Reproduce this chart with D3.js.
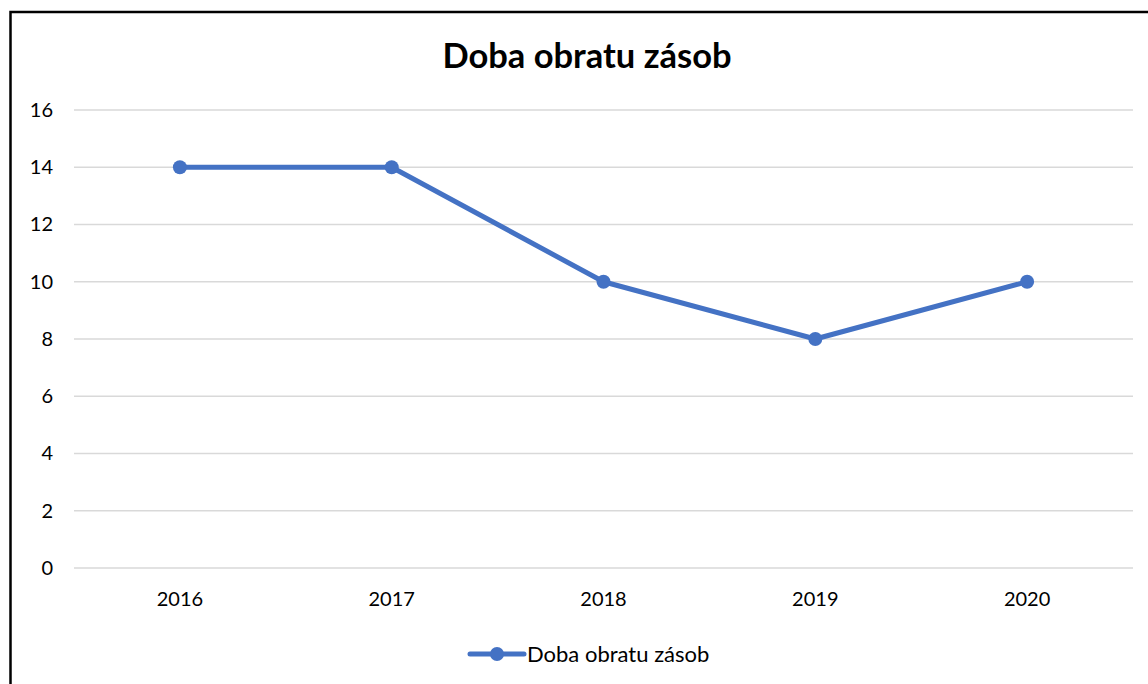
<!DOCTYPE html>
<html>
<head>
<meta charset="utf-8">
<script src="https://cdn.jsdelivr.net/npm/d3@7"></script>
<style>
  body { margin: 0; background: #fff; }
  svg { font-family: Lato, "Open Sans", sans-serif; }
</style>
</head>
<body>
<div id="chart-area"></div>
<script>
// Data
const years = ['2016', '2017', '2018', '2019', '2020'];
const values = [14, 14, 10, 8, 10];
const yTicks = [0, 2, 4, 6, 8, 10, 12, 14, 16];
const seriesName = 'Doba obratu zásob';
const title = 'Doba obratu zásob';

const W = 1148, H = 684;
const margin = { left: 74, right: 15, top: 110, bottom: 116 };
const width = W - margin.left - margin.right;
const height = H - margin.top - margin.bottom;
const blue = '#4472C4';

const svg = d3.select('#chart-area')
    .append('svg')
    .attr('width', W)
    .attr('height', H);

// Outer frame
svg.append('rect')
    .attr('x', 10.5).attr('y', 12)
    .attr('width', W).attr('height', H)
    .attr('fill', 'none')
    .attr('stroke', '#000')
    .attr('stroke-width', 2.5);

// Title
svg.append('text')
    .attr('x', 587).attr('y', 68)
    .attr('text-anchor', 'middle')
    .attr('font-size', '34.5px')
    .attr('font-weight', 'bold')
    .attr('fill', '#000')
    .text(title);

const g = svg.append('g')
    .attr('transform', 'translate(' + margin.left + ', ' + margin.top + ')');

// Scales
const x = d3.scaleBand()
    .domain(years)
    .range([0, width]);

const y = d3.scaleLinear()
    .domain([0, 16])
    .range([height, 0]);

// Grid lines
g.selectAll('.grid')
    .data(yTicks)
    .enter()
    .append('line')
    .attr('class', 'grid')
    .attr('x1', 0).attr('x2', width)
    .attr('y1', d => y(d)).attr('y2', d => y(d))
    .attr('stroke', '#d9d9d9')
    .attr('stroke-width', 1.5);

// Y axis
const yAxis = g.append('g')
    .call(d3.axisLeft(y).tickValues(yTicks).tickSize(0).tickPadding(21));
yAxis.select('.domain').remove();
yAxis.selectAll('text')
    .attr('font-size', '20px')
    .attr('font-family', 'Lato, "Open Sans", sans-serif')
    .attr('fill', '#000');

// X axis
const xAxis = g.append('g')
    .attr('transform', 'translate(0, ' + height + ')')
    .call(d3.axisBottom(x).tickSize(0).tickPadding(24));
xAxis.select('.domain').remove();
xAxis.selectAll('text')
    .attr('font-size', '20px')
    .attr('font-family', 'Lato, "Open Sans", sans-serif')
    .attr('fill', '#000');

// Line
const cx = d => x(d) + x.bandwidth() / 2;
const line = d3.line()
    .x((d, i) => cx(years[i]))
    .y(d => y(d));

g.append('path')
    .datum(values)
    .attr('d', line)
    .attr('fill', 'none')
    .attr('stroke', blue)
    .attr('stroke-width', 5)
    .attr('stroke-linejoin', 'round');

g.selectAll('circle')
    .data(values)
    .enter()
    .append('circle')
    .attr('cx', (d, i) => cx(years[i]))
    .attr('cy', d => y(d))
    .attr('r', 7)
    .attr('fill', blue);

// Legend
const legend = svg.append('g')
    .attr('transform', 'translate(470, 654)');
legend.append('line')
    .attr('x1', 0).attr('x2', 54)
    .attr('y1', 0).attr('y2', 0)
    .attr('stroke', blue)
    .attr('stroke-width', 5)
    .attr('stroke-linecap', 'round');
legend.append('circle')
    .attr('cx', 27).attr('cy', 0)
    .attr('r', 7)
    .attr('fill', blue);
legend.append('text')
    .attr('x', 57).attr('y', 8)
    .attr('font-size', '22px')
    .attr('fill', '#000')
    .text(seriesName);
</script>
</body>
</html>
